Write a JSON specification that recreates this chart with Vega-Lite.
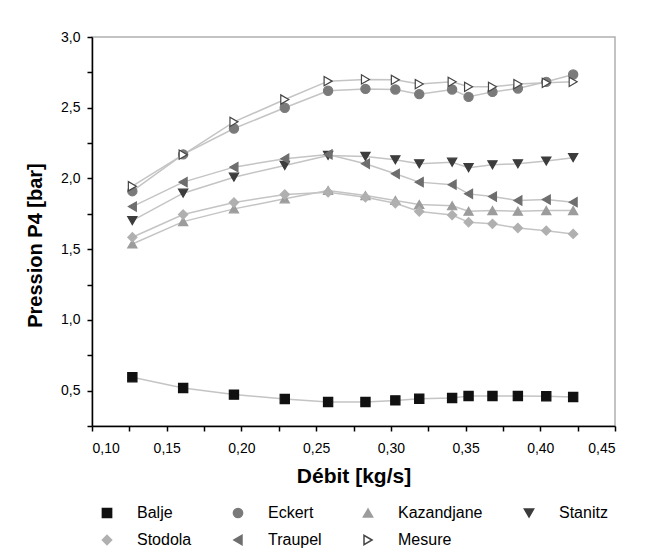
{
  "$schema": "https://vega.github.io/schema/vega-lite/v6.json",
  "width": 523,
  "height": 389,
  "autosize": {"type": "none"},
  "padding": {"left": 92, "top": 37, "right": 32, "bottom": 134},
  "background": "white",
  "config": {
    "font": "Liberation Sans",
    "view": {"stroke": "#b0b0b0", "strokeWidth": 1.5},
    "axis": {
      "domainColor": "#000",
      "domainWidth": 1.5,
      "tickColor": "#000",
      "tickWidth": 1.5,
      "tickSize": 5,
      "grid": false,
      "labelColor": "#000",
      "labelFont": "Liberation Sans",
      "labelFontSize": 14,
      "titleFont": "Liberation Sans",
      "titleFontWeight": "bold",
      "titleColor": "#000"
    }
  },
  "data": {
    "values": [
      {"s": "Balje", "x": 0.127, "y": 0.595}, {"s": "Balje", "x": 0.161, "y": 0.519}, {"s": "Balje", "x": 0.195, "y": 0.472}, {"s": "Balje", "x": 0.229, "y": 0.441}, {"s": "Balje", "x": 0.258, "y": 0.42}, {"s": "Balje", "x": 0.283, "y": 0.42}, {"s": "Balje", "x": 0.303, "y": 0.431}, {"s": "Balje", "x": 0.319, "y": 0.443}, {"s": "Balje", "x": 0.341, "y": 0.448}, {"s": "Balje", "x": 0.352, "y": 0.462}, {"s": "Balje", "x": 0.368, "y": 0.462}, {"s": "Balje", "x": 0.385, "y": 0.462}, {"s": "Balje", "x": 0.404, "y": 0.46}, {"s": "Balje", "x": 0.422, "y": 0.455},
      {"s": "Eckert", "x": 0.127, "y": 1.91}, {"s": "Eckert", "x": 0.161, "y": 2.17}, {"s": "Eckert", "x": 0.195, "y": 2.353}, {"s": "Eckert", "x": 0.229, "y": 2.5}, {"s": "Eckert", "x": 0.258, "y": 2.62}, {"s": "Eckert", "x": 0.283, "y": 2.633}, {"s": "Eckert", "x": 0.303, "y": 2.629}, {"s": "Eckert", "x": 0.319, "y": 2.596}, {"s": "Eckert", "x": 0.341, "y": 2.629}, {"s": "Eckert", "x": 0.352, "y": 2.577}, {"s": "Eckert", "x": 0.368, "y": 2.612}, {"s": "Eckert", "x": 0.385, "y": 2.636}, {"s": "Eckert", "x": 0.404, "y": 2.683}, {"s": "Eckert", "x": 0.422, "y": 2.735},
      {"s": "Kazandjane", "x": 0.127, "y": 1.537}, {"s": "Kazandjane", "x": 0.161, "y": 1.695}, {"s": "Kazandjane", "x": 0.195, "y": 1.785}, {"s": "Kazandjane", "x": 0.229, "y": 1.856}, {"s": "Kazandjane", "x": 0.258, "y": 1.915}, {"s": "Kazandjane", "x": 0.283, "y": 1.879}, {"s": "Kazandjane", "x": 0.303, "y": 1.844}, {"s": "Kazandjane", "x": 0.319, "y": 1.816}, {"s": "Kazandjane", "x": 0.341, "y": 1.807}, {"s": "Kazandjane", "x": 0.352, "y": 1.768}, {"s": "Kazandjane", "x": 0.368, "y": 1.773}, {"s": "Kazandjane", "x": 0.385, "y": 1.768}, {"s": "Kazandjane", "x": 0.404, "y": 1.773}, {"s": "Kazandjane", "x": 0.422, "y": 1.773},
      {"s": "Stanitz", "x": 0.127, "y": 1.702}, {"s": "Stanitz", "x": 0.161, "y": 1.896}, {"s": "Stanitz", "x": 0.195, "y": 2.009}, {"s": "Stanitz", "x": 0.229, "y": 2.092}, {"s": "Stanitz", "x": 0.258, "y": 2.163}, {"s": "Stanitz", "x": 0.283, "y": 2.156}, {"s": "Stanitz", "x": 0.303, "y": 2.132}, {"s": "Stanitz", "x": 0.319, "y": 2.104}, {"s": "Stanitz", "x": 0.341, "y": 2.115}, {"s": "Stanitz", "x": 0.352, "y": 2.076}, {"s": "Stanitz", "x": 0.368, "y": 2.097}, {"s": "Stanitz", "x": 0.385, "y": 2.104}, {"s": "Stanitz", "x": 0.404, "y": 2.123}, {"s": "Stanitz", "x": 0.422, "y": 2.147},
      {"s": "Stodola", "x": 0.127, "y": 1.584}, {"s": "Stodola", "x": 0.161, "y": 1.745}, {"s": "Stodola", "x": 0.195, "y": 1.83}, {"s": "Stodola", "x": 0.229, "y": 1.887}, {"s": "Stodola", "x": 0.258, "y": 1.903}, {"s": "Stodola", "x": 0.283, "y": 1.867}, {"s": "Stodola", "x": 0.303, "y": 1.825}, {"s": "Stodola", "x": 0.319, "y": 1.766}, {"s": "Stodola", "x": 0.341, "y": 1.741}, {"s": "Stodola", "x": 0.352, "y": 1.69}, {"s": "Stodola", "x": 0.368, "y": 1.679}, {"s": "Stodola", "x": 0.385, "y": 1.65}, {"s": "Stodola", "x": 0.404, "y": 1.631}, {"s": "Stodola", "x": 0.422, "y": 1.608},
      {"s": "Traupel", "x": 0.127, "y": 1.801}, {"s": "Traupel", "x": 0.161, "y": 1.974}, {"s": "Traupel", "x": 0.195, "y": 2.08}, {"s": "Traupel", "x": 0.229, "y": 2.14}, {"s": "Traupel", "x": 0.258, "y": 2.17}, {"s": "Traupel", "x": 0.283, "y": 2.104}, {"s": "Traupel", "x": 0.303, "y": 2.033}, {"s": "Traupel", "x": 0.319, "y": 1.974}, {"s": "Traupel", "x": 0.341, "y": 1.956}, {"s": "Traupel", "x": 0.352, "y": 1.891}, {"s": "Traupel", "x": 0.368, "y": 1.872}, {"s": "Traupel", "x": 0.385, "y": 1.844}, {"s": "Traupel", "x": 0.404, "y": 1.851}, {"s": "Traupel", "x": 0.422, "y": 1.832},
      {"s": "Mesure", "x": 0.127, "y": 1.945}, {"s": "Mesure", "x": 0.161, "y": 2.168}, {"s": "Mesure", "x": 0.195, "y": 2.4}, {"s": "Mesure", "x": 0.229, "y": 2.558}, {"s": "Mesure", "x": 0.258, "y": 2.688}, {"s": "Mesure", "x": 0.283, "y": 2.7}, {"s": "Mesure", "x": 0.303, "y": 2.697}, {"s": "Mesure", "x": 0.319, "y": 2.667}, {"s": "Mesure", "x": 0.341, "y": 2.683}, {"s": "Mesure", "x": 0.352, "y": 2.648}, {"s": "Mesure", "x": 0.368, "y": 2.648}, {"s": "Mesure", "x": 0.385, "y": 2.667}, {"s": "Mesure", "x": 0.404, "y": 2.676}, {"s": "Mesure", "x": 0.422, "y": 2.683}
    ]
  },
  "encoding": {
    "x": {
      "field": "x", "type": "quantitative",
      "scale": {"domain": [0.1, 0.45], "nice": false, "zero": false},
      "axis": {
        "title": "Débit [kg/s]",
        "titleFontSize": 21,
        "titlePadding": 10,
        "labelPadding": 10,
        "values": [0.1, 0.125, 0.15, 0.175, 0.2, 0.225, 0.25, 0.275, 0.3, 0.325, 0.35, 0.375, 0.4, 0.425, 0.45],
        "labelExpr": "(round(datum.value*1000) % 50 == 0) ? replace(format(datum.value, '.2f'), '.', ',') : ''",
        "labelOverlap": false
      }
    },
    "y": {
      "field": "y", "type": "quantitative",
      "scale": {"domain": [0.25, 3.0], "nice": false, "zero": false},
      "axis": {
        "title": "Pression P4 [bar]",
        "titleFontSize": 20,
        "titlePadding": 15,
        "titleY": 208,
        "labelPadding": 7,
        "values": [0.25, 0.5, 0.75, 1.0, 1.25, 1.5, 1.75, 2.0, 2.25, 2.5, 2.75, 3.0],
        "labelExpr": "(round(datum.value*100) % 50 == 0) ? replace(format(datum.value, '.1f'), '.', ',') : ''",
        "labelOverlap": false
      }
    }
  },
  "layer": [
    {
      "mark": {"type": "line", "color": "#c4c4c4", "strokeWidth": 1.5},
      "encoding": {"detail": {"field": "s"}}
    },
    {
      "mark": {"type": "point", "filled": false, "size": 85, "strokeWidth": 1.2, "opacity": 1},
      "encoding": {
        "shape": {
          "field": "s", "type": "nominal",
          "scale": {
            "domain": ["Balje", "Eckert", "Kazandjane", "Stanitz", "Stodola", "Traupel", "Mesure"],
            "range": ["square", "circle", "triangle-up", "triangle-down", "diamond", "triangle-left", "triangle-right"]
          },
          "legend": {
            "title": null,
            "orient": "none",
            "legendX": 7,
            "legendY": 468,
            "direction": "horizontal",
            "columns": 4,
            "padding": 0,
            "columnPadding": 38,
            "rowPadding": 11,
            "labelFontSize": 16,
            "labelFont": "Liberation Sans",
            "labelColor": "#000",
            "labelOffset": 22,
            "symbolSize": 85
          }
        },
        "fill": {
          "field": "s", "type": "nominal",
          "scale": {
            "domain": ["Balje", "Eckert", "Kazandjane", "Stanitz", "Stodola", "Traupel", "Mesure"],
            "range": ["#111111", "#7a7a7a", "#9c9c9c", "#3c3c3c", "#b0b0b0", "#6e6e6e", "#ffffff"]
          },
          "legend": null
        },
        "stroke": {
          "field": "s", "type": "nominal",
          "scale": {
            "domain": ["Balje", "Eckert", "Kazandjane", "Stanitz", "Stodola", "Traupel", "Mesure"],
            "range": ["#111111", "#7a7a7a", "#9c9c9c", "#3c3c3c", "#b0b0b0", "#6e6e6e", "#444444"]
          },
          "legend": null
        }
      }
    }
  ]
}
